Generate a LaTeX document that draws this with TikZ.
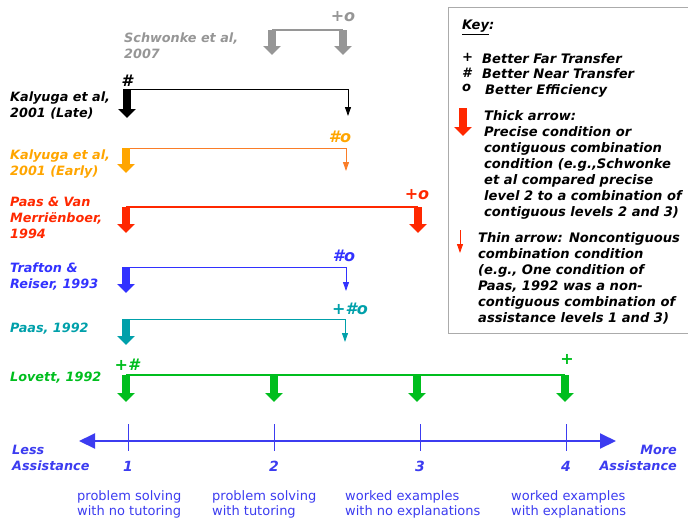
\documentclass[tikz,border=0pt]{standalone}
\usepackage{fontspec}
\setmainfont{DejaVu Sans}
\usetikzlibrary{arrows.meta}
\definecolor{cgray}{RGB}{150,150,150}
\definecolor{cblack}{RGB}{0,0,0}
\definecolor{corange}{RGB}{255,165,0}
\definecolor{corline}{RGB}{250,125,40}
\definecolor{cred}{RGB}{255,40,0}
\definecolor{cblue}{RGB}{50,50,255}
\definecolor{cteal}{RGB}{0,160,170}
\definecolor{cgreen}{RGB}{0,190,30}
\definecolor{caxis}{RGB}{60,60,240}
\begin{document}
\begin{tikzpicture}[x=1pt,y=-1pt,
  lab/.style={font=\fontsize{12.8}{16}\selectfont\bfseries\itshape, align=left, anchor=north west, inner sep=0pt},
  sym/.style={font=\fontsize{16}{16}\selectfont\bfseries\itshape, inner sep=0pt},
  num/.style={font=\fontsize{14}{16}\selectfont\bfseries\itshape, inner sep=0pt},
  keytxt/.style={font=\fontsize{13.1}{16}\selectfont\bfseries\itshape, align=left, anchor=north west, inner sep=0pt},
  lvl/.style={font=\fontsize{13}{15.5}\selectfont, text=caxis, align=left, anchor=north west, inner sep=0pt},
  thk/.style={line width=8pt, -{Triangle[width=17pt,length=9pt]}},
  thn/.style={line width=0.9pt, -{Triangle[width=6pt,length=9pt]}},
  brk/.style={line width=1.2pt},
]
\useasboundingbox (0,0) rectangle (688,520);

% ---------- Schwonke (gray)
\node[lab, text=cgray] (lsch) at (124,33) {Schwonke et al,\\2007};
\coordinate (s1) at (272,30); \coordinate (s1t) at (272,55);
\coordinate (s2) at (343,30); \coordinate (s2t) at (343,55);
\draw[brk, cgray] (s1) -- (s2);
\draw[thk, cgray] (s1) -- (s1t);
\draw[thk, cgray] (s2) -- (s2t);
\node[sym, text=cgray] (ssym) at (343,17) {+o};

% ---------- Kalyuga Late (black)
\node[lab, text=cblack] (lkl) at (10,92) {Kalyuga et al,\\2001 (Late)};
\coordinate (k1) at (127,89); \coordinate (k1t) at (127,118);
\coordinate (k2) at (348,89); \coordinate (k2t) at (348,116);
\draw[line width=0.9pt, cblack] (k1) -- (k2);
\draw[thk, cblack] (k1) -- (k1t);
\draw[thn, cblack] (k2) -- (k2t);
\node[sym, text=cblack] (ksym) at (127,81) {\#};

% ---------- Kalyuga Early (orange)
\node[lab, text=corange] (lke) at (10,150) {Kalyuga et al,\\2001 (Early)};
\coordinate (e1) at (126,148); \coordinate (e1t) at (126,173);
\coordinate (e2) at (346,148); \coordinate (e2t) at (346,171);
\draw[line width=1pt, corline] (e1) -- (e2);
\draw[thk, corange] (e1) -- (e1t);
\draw[thn, corline] (e2) -- (e2t);
\node[sym, text=corange] (esym) at (340,137) {\#o};

% ---------- Paas & Van Merrienboer (red)
\node[lab, text=cred] (lpv) at (10,197) {Paas \& Van\\Merriënboer,\\1994};
\coordinate (p1) at (126,207); \coordinate (p1t) at (126,233);
\coordinate (p2) at (418,207); \coordinate (p2t) at (418,233);
\draw[brk, cred] (p1) -- (p2);
\draw[thk, cred] (p1) -- (p1t);
\draw[thk, cred] (p2) -- (p2t);
\node[sym, text=cred] (psym) at (417,195) {+o};

% ---------- Trafton & Reiser (blue)
\node[lab, text=cblue] (ltr) at (10,263) {Trafton \&\\Reiser, 1993};
\coordinate (t1) at (126,267); \coordinate (t1t) at (126,293);
\coordinate (t2) at (346,267); \coordinate (t2t) at (346,291);
\draw[line width=1pt, cblue] (t1) -- (t2);
\draw[thk, cblue] (t1) -- (t1t);
\draw[thn, cblue] (t2) -- (t2t);
\node[sym, text=cblue] (tsym) at (344,256) {\#o};

% ---------- Paas 1992 (teal)
\node[lab, text=cteal] (lp92) at (10,323) {Paas, 1992};
\coordinate (q1) at (126,319); \coordinate (q1t) at (126,345);
\coordinate (q2) at (345,319); \coordinate (q2t) at (345,342);
\draw[line width=1pt, cteal] (q1) -- (q2);
\draw[thk, cteal] (q1) -- (q1t);
\draw[thn, cteal] (q2) -- (q2t);
\node[sym, text=cteal] (qsym) at (350,309) {+\#o};

% ---------- Lovett 1992 (green)
\node[lab, text=cgreen] (llov) at (10,372) {Lovett, 1992};
\coordinate (g1) at (126,375); \coordinate (g1t) at (126,402);
\coordinate (g2) at (274,375); \coordinate (g2t) at (274,402);
\coordinate (g3) at (417,375); \coordinate (g3t) at (417,402);
\coordinate (g4) at (565,375); \coordinate (g4t) at (565,402);
\draw[brk, cgreen] (g1) -- (g4);
\draw[thk, cgreen] (g1) -- (g1t);
\draw[thk, cgreen] (g2) -- (g2t);
\draw[thk, cgreen] (g3) -- (g3t);
\draw[thk, cgreen] (g4) -- (g4t);
\node[sym, text=cgreen] (gsym1) at (127,365) {+\#};
\node[sym, text=cgreen] (gsym2) at (567,359) {+};

% ---------- Key box
\draw[line width=1pt, cgray!80] (690,7) -- (448,7) -- (448,333) -- (690,333);
\node[keytxt] (keyt) at (462,20) {\underline{Key}:};
\node[keytxt] (k1s) at (462,53) {+};
\node[keytxt] (k1x) at (482,53) {Better Far Transfer};
\node[keytxt] (k2s) at (462,68) {\#};
\node[keytxt] (k2x) at (482,68) {Better Near Transfer};
\node[keytxt] (k3s) at (462,84) {o};
\node[keytxt] (k3x) at (485,84) {Better Efficiency};
\coordinate (kt1) at (463,108); \coordinate (kt1t) at (463,136);
\draw[thk, cred] (kt1) -- (kt1t);
\node[keytxt] (kthick) at (484,110) {Thick arrow:\\Precise condition or\\contiguous combination\\condition (e.g.,Schwonke\\et al compared precise\\level 2 to a combination of\\contiguous levels 2 and 3)};
\coordinate (kn1) at (460,230); \coordinate (kn1t) at (460,253);
\draw[thn, cred] (kn1) -- (kn1t);
\node[keytxt] (kthin) at (478,232) {Thin arrow: Noncontiguous\\combination condition\\(e.g., One condition of\\Paas, 1992 was a non-\\contiguous combination of\\assistance levels 1 and 3)};

% ---------- Axis
\coordinate (axL) at (79,441); \coordinate (axR) at (616,441);
\draw[line width=2pt, caxis, {Triangle[width=15pt,length=16pt]}-{Triangle[width=15pt,length=16pt]}] (axL) -- (axR);
\foreach \x/\n in {128/1,274/2,420/3,566/4} {
  \coordinate (tk\n a) at (\x,424); \coordinate (tk\n b) at (\x,451);
  \draw[line width=0.8pt, caxis] (tk\n a) -- (tk\n b);
  \node[num, text=caxis] (num\n) at (\x,466) {\n};
}
\node[lab, text=caxis] (less) at (12,445) {Less\\Assistance};
\node[lab, text=caxis, align=right, anchor=north east] (more) at (677,445) {More\\Assistance};
\node[lvl] (d1) at (77,490) {problem solving\\with no tutoring};
\node[lvl] (d2) at (212,490) {problem solving\\with tutoring};
\node[lvl] (d3) at (345,490) {worked examples\\with no explanations};
\node[lvl] (d4) at (511,490) {worked examples\\with explanations};
\end{tikzpicture}
\end{document}
